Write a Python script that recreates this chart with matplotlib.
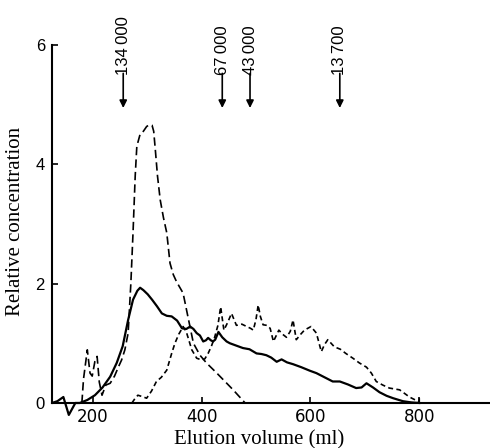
import matplotlib
matplotlib.use('Agg')
from matplotlib import pyplot as plt

# elution profiles
solid_x = [125, 135, 146, 156, 168, 176, 190, 204, 218, 232, 244, 255, 265, 274, 282, 287, 293,
           301, 309, 318, 327, 336, 345, 355, 364, 372, 379, 385, 391, 397, 403, 408, 412, 417,
           421, 425, 431, 438, 446, 452, 464, 476, 488, 501, 510, 519, 528, 538, 547, 557, 568,
           583, 599, 611, 626, 641, 654, 669, 684, 694, 703, 715, 727, 740, 752, 770, 785, 800]
solid_y = [0.0, 0.03, 0.1, -0.2, 0.0, 0.0, 0.05, 0.13, 0.26, 0.44, 0.67, 0.95, 1.39, 1.73, 1.88,
           1.93, 1.89, 1.82, 1.73, 1.62, 1.5, 1.46, 1.45, 1.38, 1.25, 1.24, 1.28, 1.24, 1.17, 1.13,
           1.03, 1.05, 1.09, 1.05, 1.03, 1.06, 1.19, 1.1, 1.03, 1.0, 0.96, 0.92, 0.9, 0.83, 0.82,
           0.8, 0.76, 0.69, 0.73, 0.68, 0.65, 0.6, 0.54, 0.5, 0.43, 0.36, 0.36, 0.31, 0.25, 0.26,
           0.33, 0.26, 0.18, 0.12, 0.08, 0.03, 0.01, 0.0]

peak_x = [180, 183, 190, 195, 199, 204, 208, 212, 217, 224, 232, 240, 247, 253, 259, 265, 270,
          274, 278, 281, 287, 293, 299, 304, 309, 312, 315, 319, 324, 330, 336, 342, 348, 354,
          366, 375, 385, 397, 409, 428, 443, 458, 470, 480]
peak_y = [0.0, 0.4, 0.89, 0.5, 0.45, 0.7, 0.78, 0.35, 0.13, 0.3, 0.33, 0.45, 0.6, 0.72, 0.89,
          1.17, 2.0, 2.85, 3.8, 4.3, 4.5, 4.55, 4.63, 4.66, 4.65, 4.55, 4.24, 3.8, 3.4, 3.1, 2.85,
          2.34, 2.15, 2.03, 1.84, 1.44, 1.0, 0.8, 0.67, 0.5, 0.36, 0.22, 0.1, 0.0]

late_x = [272, 278, 283, 290, 299, 308, 317, 326, 336, 345, 351, 358, 366, 372, 382, 391, 400,
          406, 412, 418, 424, 430, 435, 441, 448, 455, 464, 474, 483, 490, 495, 500, 504, 508,
          513, 520, 526, 532, 542, 549, 556, 563, 568, 574, 582, 589, 601, 611, 620, 626, 632,
          644, 655, 665, 678, 690, 703, 712, 721, 733, 745, 764, 782, 795, 800, 800]
late_y = [0.0, 0.08, 0.13, 0.11, 0.08, 0.2, 0.36, 0.43, 0.55, 0.83, 1.0, 1.15, 1.28, 1.19, 0.89,
          0.75, 0.72, 0.74, 0.83, 0.95, 1.1, 1.3, 1.61, 1.22, 1.35, 1.5, 1.3, 1.32, 1.28, 1.25,
          1.22, 1.4, 1.64, 1.45, 1.31, 1.3, 1.25, 1.03, 1.22, 1.15, 1.1, 1.2, 1.39, 1.06, 1.15,
          1.22, 1.28, 1.17, 0.86, 0.98, 1.06, 0.94, 0.9, 0.83, 0.75, 0.67, 0.6, 0.5, 0.36, 0.3,
          0.25, 0.22, 0.1, 0.04, 0.02, 0.1]

marker_x = [256, 438, 489, 654]
marker_labels = ['134\u2009000', '67\u2009000', '43\u2009000', '13\u2009700']

x_ticks = [200, 400, 600, 800]
y_ticks = [0, 2, 4, 6]

fig = plt.figure(figsize=(4.9, 4.48), dpi=100)
ax = fig.add_axes([0.106, 0.0605, 0.894, 0.933])

ax.plot(solid_x, solid_y, color='black', lw=1.6, solid_joinstyle='round')
ax.plot(peak_x, peak_y, color='black', lw=1.2, dashes=(5, 2.5))
ax.plot(late_x, late_y, color='black', lw=1.2, dashes=(3, 2))

for mx, lab in zip(marker_x, marker_labels):
    ax.annotate('', xy=(mx, 4.94), xytext=(mx, 5.52),
                arrowprops=dict(arrowstyle='-|>', color='black', lw=1.2,
                                mutation_scale=11, shrinkA=0, shrinkB=0))
    ax.text(mx, 5.5, lab, rotation=90, ha='center', va='bottom',
            fontsize=12, family=['Liberation Sans', 'DejaVu Sans'])

ax.set_xlim(125, 930)
ax.set_ylim(-0.3, 6.7)
ax.set_xticks(x_ticks)
ax.set_yticks(y_ticks)
ax.tick_params(direction='in', length=4, width=1.2, labelsize=12)
ax.tick_params(axis='y', pad=5)
for t in ax.get_xticklabels() + ax.get_yticklabels():
    t.set_family('Liberation Sans')

ax.spines['top'].set_visible(False)
ax.spines['right'].set_visible(False)
ax.spines['left'].set_bounds(0, 6)
ax.spines['left'].set_linewidth(1.5)
ax.spines['bottom'].set_linewidth(1.5)
ax.spines['bottom'].set_position(('data', 0))

ax.set_xlabel('Elution volume (ml)', fontsize=15, family='Liberation Serif')
ax.set_ylabel('Relative concentration', fontsize=15, family='Liberation Serif')
ax.xaxis.set_label_coords(0.473, -0.022)
ax.yaxis.set_label_coords(-0.062, 0.478)

fig.savefig('out.png', dpi=100)
